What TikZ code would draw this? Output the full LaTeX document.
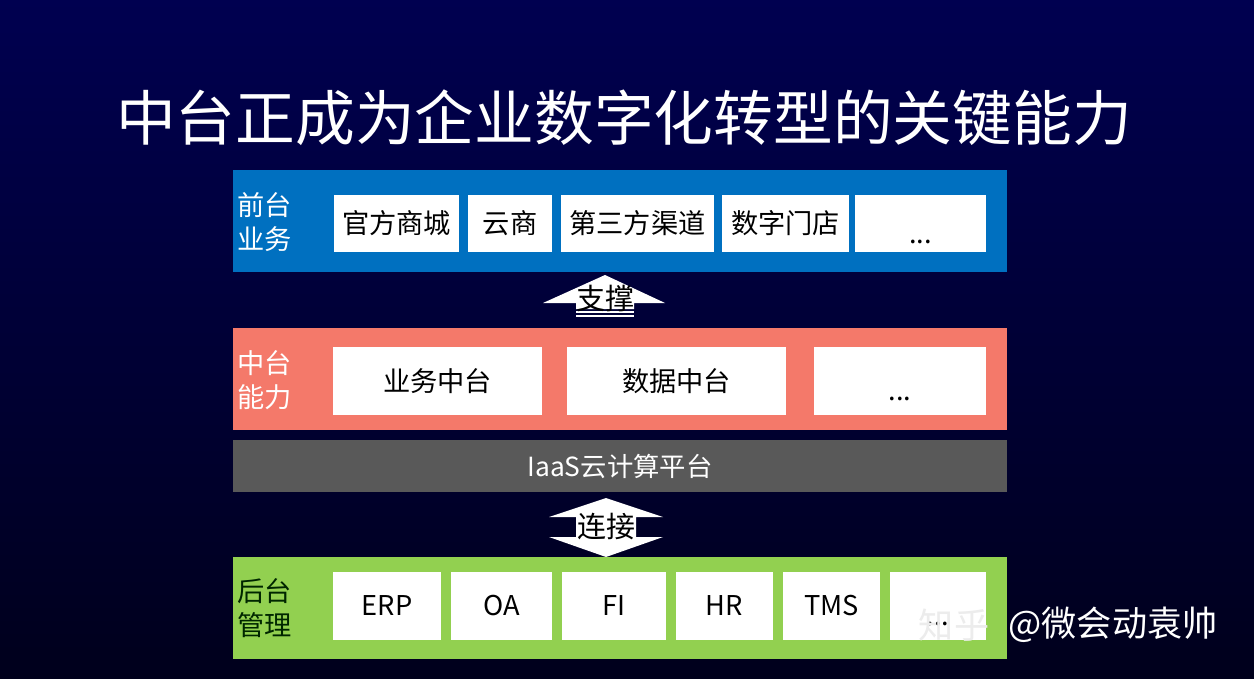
\documentclass[tikz,border=0pt]{standalone}
\usepackage{fontspec}
\setmainfont{Noto Sans CJK SC}
\definecolor{bgtop}{HTML}{000050}
\definecolor{bgbot}{HTML}{00001C}
\definecolor{frontcol}{HTML}{0070C0}
\definecolor{midcol}{HTML}{F4796A}
\definecolor{iaascol}{HTML}{595959}
\definecolor{backcol}{HTML}{92D050}
\newcommand{\moredots}{\smash{\raisebox{-0.35em}{...}}\vphantom{官}}
\tikzset{
	boxtext/.style={font=\fontsize{15.5}{18}\selectfont,text=black,inner sep=0pt},
	rowlabel/.style={align=left,anchor=west,font=\fontsize{15.5}{19}\selectfont,inner sep=0pt}
}

\begin{document}
\begin{tikzpicture}[x=0.02cm,y=-0.02cm]
\shade[top color=bgtop,bottom color=bgbot] (0,0) rectangle (1254,679);
\useasboundingbox (0,0) rectangle (1254,679);
\node[text=white,font=\fontsize{34}{40}\selectfont] (title) at (624,118) {中台正成为企业数字化转型的关键能力};
% front row
\fill[frontcol] (233,170) rectangle (1007,272);
\node[rowlabel,text=white] (frontlabel) at (237,222) {前台\\业务};
\foreach \name/\xa/\xb [count=\i] in {
	官方商城/334/459,
	云商/468/552,
	第三方渠道/561/714,
	数字门店/722/849,
	\moredots/855/986%
	}{
	\fill[white] (\xa,195) rectangle (\xb,252);
	\node[boxtext] (front\i) at ({(\xa+\xb)/2},223.5) {\name};
	}
% support arrow
\fill[white] (605,275) -- (665,303) -- (634,303) -- (634,309) -- (576,309) -- (576,303) -- (543,303) -- cycle;
\fill[white] (576,311) rectangle (634,313);
\fill[white] (576,315) rectangle (634,317);
\node[font=\fontsize{16.5}{18}\selectfont,inner sep=0pt] (support) at (605,298) {支撑};
% middle row
\fill[midcol] (233,328) rectangle (1007,430);
\node[rowlabel,text=white] (midlabel) at (237,380) {中台\\能力};
\foreach \name/\xa/\xb [count=\i] in {
	业务中台/333/542,
	数据中台/567/786,
	\moredots/814/986%
	}{
	\fill[white] (\xa,347) rectangle (\xb,415);
	\node[boxtext] (mid\i) at ({(\xa+\xb)/2},381) {\name};
	}
% iaas
\fill[iaascol] (233,440) rectangle (1007,492);
\node[font=\fontsize{15}{18}\selectfont,text=white] (iaas) at (620,466) {IaaS云计算平台};
% connect arrow
\fill[white] (606,498) -- (663,517) -- (636,517) -- (636,537) -- (663,537) -- (606,557) -- (549,537) -- (576,537) -- (576,517) -- (549,517) -- cycle;
\node[font=\fontsize{16.5}{18}\selectfont,inner sep=0pt] (connect) at (606,527) {连接};
% back row
\fill[backcol] (233,557) rectangle (1007,659);
\node[rowlabel,text=black!85!green] (backlabel) at (237,608) {后台\\管理};
\foreach \name/\xa/\xb [count=\i] in {
	ERP/333/441,
	OA/451/552,
	FI/562/666,
	HR/676/773,
	TMS/783/880,
	\moredots/890/986%
	}{
	\fill[white] (\xa,572) rectangle (\xb,640);
	\node[boxtext] (back\i) at ({(\xa+\xb)/2},606) {\name};
	}
% watermark
\node[font=\fontsize{20}{24}\selectfont,text=white!85!gray] (zhihu) at (954,625) {知乎};
\node[font=\fontsize{20}{24}\selectfont,text=white] (author) at (1113,625) {@微会动袁帅};
\end{tikzpicture}
\end{document}
